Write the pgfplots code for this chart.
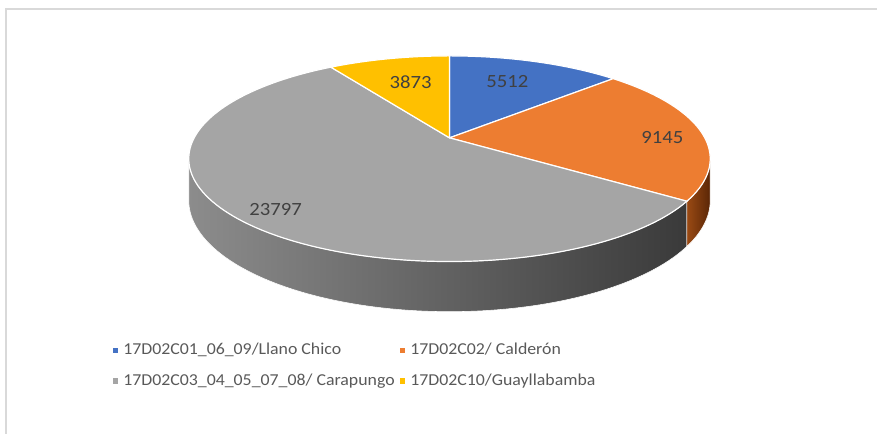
\documentclass[border=0pt]{standalone}
\usepackage{pgfplots}
\pgfplotsset{compat=1.18}
\usepackage{pgfplotstable}
\usepackage{fontspec}
\setmainfont{Carlito}[FakeStretch=1.11]
\newfontfamily\legfont{Carlito}[FakeStretch=1.07]

\definecolor{cblue}{HTML}{4472C4}
\definecolor{corange}{HTML}{ED7D31}
\definecolor{cgray}{HTML}{A5A5A5}
\definecolor{cyellow}{HTML}{FFC000}
\definecolor{labtxt}{HTML}{404040}
\definecolor{legtxt}{HTML}{595959}
\definecolor{framec}{HTML}{D9D9D9}
\definecolor{wallL}{HTML}{8C8C8C}
\definecolor{wallR}{HTML}{3A3A3A}
\definecolor{owallL}{HTML}{9A4A14}
\definecolor{owallR}{HTML}{5A2606}

\pgfplotstableread{
name value
LlanoChico 5512
Calderon 9145
Carapungo 23797
Guayllabamba 3873
}\piedata

\pgfplotstablegetelem{0}{value}\of\piedata \edef\va{\pgfplotsretval}
\pgfplotstablegetelem{1}{value}\of\piedata \edef\vb{\pgfplotsretval}
\pgfplotstablegetelem{2}{value}\of\piedata \edef\vc{\pgfplotsretval}
\pgfplotstablegetelem{3}{value}\of\piedata \edef\vd{\pgfplotsretval}
\edef\T{\fpeval{\va+\vb+\vc+\vd}}
\edef\aA{\fpeval{round(90-360*\va/\T,3)}}
\edef\aB{\fpeval{round(\aA-360*\vb/\T,3)}}
\edef\aC{\fpeval{round(\aB-360*\vc/\T,3)}}
\edef\aD{\fpeval{round(\aC-360*\vd/\T,3)}}
% perspective parameters (pixels)
\def\k{0.203}
\edef\silR{\fpeval{round(asind(-\k),3)}}
\edef\silL{\fpeval{round(-180-\silR,3)}}

\begin{document}
\begin{tikzpicture}[
  declare function={
    px(\t)=450+255.6*cos(\t)/(1+0.203*sin(\t));
    py(\t)=138-98.7*sin(\t)/(1+0.203*sin(\t));
    pb(\t)=138-98.7*sin(\t)/(1+0.203*sin(\t))+40/(1+0.203*sin(\t));
  }]
\begin{axis}[
  scale only axis, width=658.5pt, height=325.5pt,
  xmin=0, xmax=878, ymin=0, ymax=434, y dir=reverse,
  axis lines=none, clip=false,
  legend columns=2,
  legend cell align=left,
  legend image code/.code={\fill[#1,draw=none] (0pt,-1.9pt) rectangle (3.8pt,1.9pt);},
  legend style={at={(axis cs:113,366)}, anchor=west, draw=none, fill=none,
    inner sep=0pt, outer sep=0pt, text=legtxt,
    font=\legfont\fontsize{12.5}{15}\selectfont,
    row sep=9pt,
    /tikz/every even column/.append style={column sep=2pt},
    /tikz/every odd column/.append style={column sep=2pt}},
]
\path (axis cs:0,0) rectangle (axis cs:878,434);
\draw[framec, line width=1.5pt] (axis cs:6.5,434) -- (axis cs:6.5,9.5) -- (axis cs:878,9.5);

% side walls
\addplot[forget plot, draw=white, line width=0.4pt, left color=wallL, right color=wallR,
  domain=\silL:\aB, samples=90, variable=\t]
  ({px(\t)},{py(\t)}) -- plot[domain=\aB:\silL, samples=90, variable=\s] ({px(\s)},{pb(\s)}) -- cycle;
\addplot[forget plot, draw=white, line width=0.4pt, left color=owallL, right color=owallR,
  domain=\aB:\silR, samples=30, variable=\t]
  ({px(\t)},{py(\t)}) -- plot[domain=\silR:\aB, samples=30, variable=\s] ({px(\s)},{pb(\s)}) -- cycle;

% top slices
\addplot[fill=cblue, draw=white, line width=0.9pt, domain=\aA:90, samples=40, variable=\t]
  ({px(\t)},{py(\t)}) -- (axis cs:450,138) -- cycle;
\addlegendentry{17D02C01\_06\_09/Llano Chico}
\addplot[fill=corange, draw=white, line width=0.9pt, domain=\aB:\aA, samples=50, variable=\t]
  ({px(\t)},{py(\t)}) -- (axis cs:450,138) -- cycle;
\addlegendentry{17D02C02/ Calderón}
\addplot[fill=cgray, draw=white, line width=0.9pt, domain=\aC:\aB, samples=120, variable=\t]
  ({px(\t)},{py(\t)}) -- (axis cs:450,138) -- cycle;
\addlegendentry{17D02C03\_04\_05\_07\_08/ Carapungo}
\addplot[fill=cyellow, draw=white, line width=0.9pt, domain=\aD:\aC, samples=30, variable=\t]
  ({px(\t)},{py(\t)}) -- (axis cs:450,138) -- cycle;
\addlegendentry{17D02C10/Guayllabamba}

% data labels
\begin{scope}[every node/.style={text=labtxt, font=\fontsize{14}{16}\selectfont}]
\node at (axis cs:508,82) {\va};
\node at (axis cs:663,138) {\vb};
\node at (axis cs:276,210) {\vc};
\node at (axis cs:411,82) {\vd};
\end{scope}
\end{axis}
\end{tikzpicture}
\end{document}
